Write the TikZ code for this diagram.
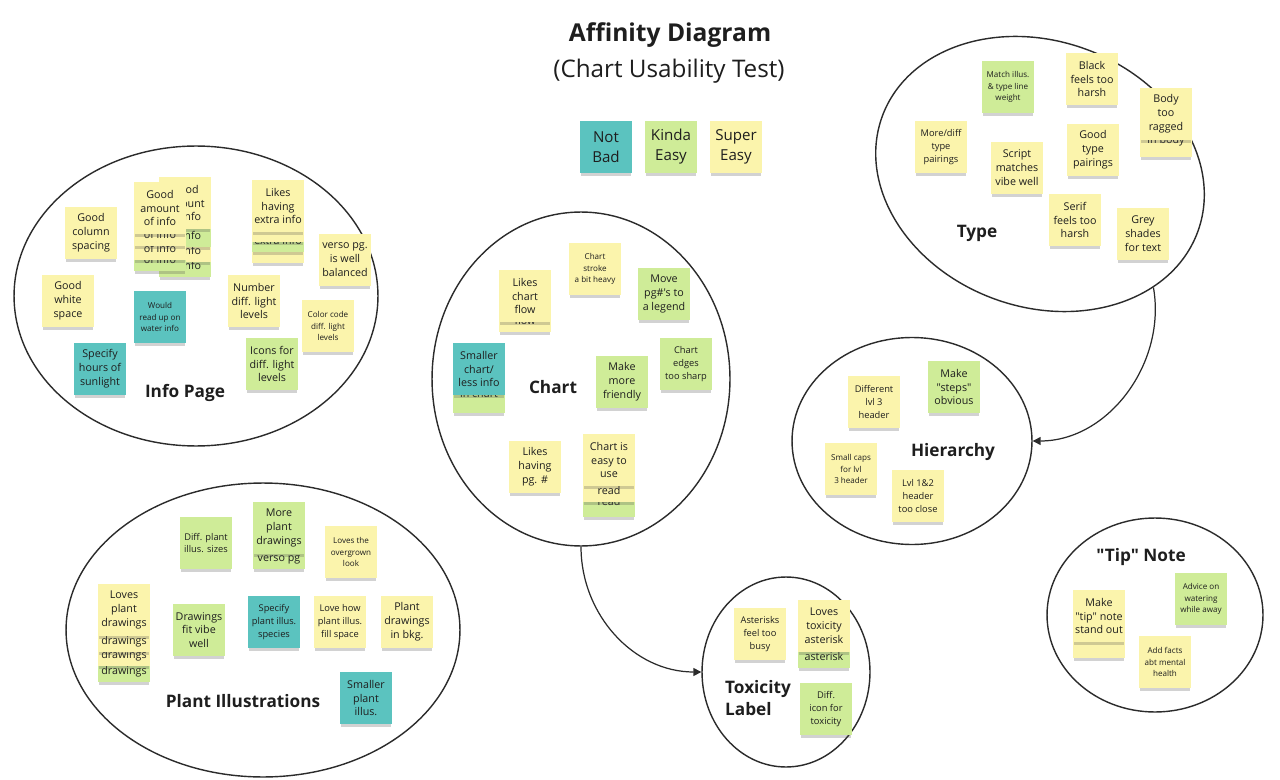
\documentclass[tikz,border=0pt]{standalone}
\usepackage{fontspec}
\setmainfont{Open Sans}[Ligatures=TeXOff]
\usetikzlibrary{arrows.meta, shapes.geometric, shadows}
\definecolor{notbadfill}{HTML}{5BC3BF}
\definecolor{kindafill}{HTML}{CFEC98}
\definecolor{superfill}{HTML}{FBF4AC}
\definecolor{ink}{HTML}{1E1E1E}
\definecolor{ring}{HTML}{2B2B2B}
\newcommand{\bignote}{\fontsize{6.1}{7.9}\selectfont}
\newcommand{\midnote}{\fontsize{5.3}{7.3}\selectfont}
\newcommand{\smallnote}{\fontsize{4.6}{6.6}\selectfont}
\tikzset{
    sticky/.style={rectangle, minimum width=1.04cm, minimum height=1.04cm,
        inner sep=1pt, align=center, font=\bignote, text=ink,
        drop shadow={opacity=0.25, fill=black!70, shadow xshift=0pt,
                     shadow yshift=-0.08cm, shadow scale=0.96}},
    notbad/.style={sticky, fill=notbadfill},
    kindaeasy/.style={sticky, fill=kindafill},
    supereasy/.style={sticky, fill=superfill},
    midtxt/.style={font=\midnote},
    smalltxt/.style={font=\smallnote},
    % last line of a note that lies under another one
    peek/.style={label={[anchor=base, font=\bignote, text=ink,
        inner sep=0pt, yshift=4.5pt]south:#1}},
    legendtxt/.style={font=\fontsize{8.6}{11.3}\selectfont},
    cluster/.style={ellipse, draw=ring, line width=0.8pt, inner sep=0pt},
    clusterlbl/.style={font=\bfseries\fontsize{9.8}{12.4}\selectfont,
        text=ink, align=left},
    arr/.style={-{Triangle[length=4.5pt, width=4.5pt]}, line width=0.7pt,
        draw=ring},
}

\begin{document}
\begin{tikzpicture}[x=0.02cm, y=-0.02cm]
\path[fill=white, use as bounding box] (0,0) rectangle (1280,780);

% ================================================================
%  TITLE AND LEGEND
% ================================================================

\node[font=\bfseries\fontsize{14}{17}\selectfont, text=ink] (title)
    at (670, 35) {Affinity Diagram};
\node[font=\fontsize{13.8}{17}\selectfont, text=ink] (subtitle)
    at (669, 71) {(Chart Usability Test)};

\node[notbad, legendtxt]    (legbad)   at (606, 147) {Not\\Bad};
\node[kindaeasy, legendtxt] (legkinda) at (671, 147) {Kinda\\Easy};
\node[supereasy, legendtxt] (legsuper) at (736, 147) {Super\\Easy};

% ================================================================
%  CLUSTERS
% ================================================================

\node[cluster, minimum width=7.28cm, minimum height=6.0cm]
    (infogrp) at (196, 296) {};
\node[cluster, minimum width=5.96cm, minimum height=6.68cm]
    (chartgrp) at (581, 379) {};
\node[cluster, minimum width=6.72cm, minimum height=5.32cm, rotate=-20]
    (typegrp) at (1040, 174) {};
\node[cluster, minimum width=4.8cm, minimum height=4.14cm]
    (hiergrp) at (912, 441) {};
\node[cluster, minimum width=4.32cm, minimum height=3.88cm]
    (tipgrp) at (1155, 615) {};
\node[cluster, minimum width=7.88cm, minimum height=5.88cm]
    (plantgrp) at (263, 630) {};
\node[cluster, minimum width=3.36cm, minimum height=3.8cm]
    (toxgrp) at (786, 672) {};

\draw[arr] (chartgrp.south) to[out=-90, in=180] (toxgrp.west);
\draw[arr] (typegrp.-25) to[out=-80, in=0] (hiergrp.east);

% ================================================================
%  INFO PAGE
% ================================================================

\node[clusterlbl] (infolbl) at (185, 393) {Info Page};

\node[supereasy] (colspace) at (91, 233) {Good\\column\\spacing};
\node[supereasy] (white)    at (68, 301) {Good\\white\\space};
\node[notbad]    (sunlight) at (100, 369) {Specify\\hours of\\sunlight};
\node[notbad, smalltxt] (water) at (160, 317) {Would\\read up on\\water info};

% amount of info, back stack
\node[kindaeasy, peek={of info}] (amtb4) at (185, 251) {};
\node[supereasy, peek={of info}] (amtb3) at (185, 236) {};
\node[kindaeasy, peek={of info}] (amtb2) at (185, 221) {};
\node[supereasy] (amtb1) at (185, 203) {Good\\amount\\of info};
% amount of info, front stack
\node[kindaeasy, peek={of info}] (amtf4) at (160, 245) {};
\node[supereasy, peek={of info}] (amtf3) at (160, 234) {};
\node[supereasy, peek={of info}] (amtf2) at (160, 220) {};
\node[supereasy] (amtf1) at (160, 208) {Good\\amount\\of info};

\node[supereasy] (extra3) at (278, 237) {};
\node[kindaeasy, peek={extra info}] (extra2) at (278, 226) {};
\node[supereasy] (extra1) at (278, 216) {};
\node[supereasy] (extra)  at (278, 206) {Likes\\having\\extra info};

\node[supereasy] (verso)   at (345, 260) {verso pg.\\is well\\balanced};
\node[supereasy] (number)  at (254, 301) {Number\\diff. light\\levels};
\node[supereasy, smalltxt] (colcode) at (328, 326)
    {Color code\\diff. light\\levels};
\node[kindaeasy] (icons)   at (272, 364) {Icons for\\diff. light\\levels};

% ================================================================
%  CHART
% ================================================================

\node[clusterlbl] (chartlbl) at (553, 387) {Chart};

\node[supereasy, smalltxt] (stroke) at (595, 269)
    {Chart\\stroke\\a bit heavy};
\node[supereasy, peek=flow] (flow1) at (525, 306) {};
\node[supereasy] (flow)  at (525, 296) {Likes\\chart\\flow};
\node[kindaeasy] (legend)   at (664, 294) {Move\\pg\#'s to\\a legend};
\node[kindaeasy, midtxt] (edges) at (686, 364) {Chart\\edges\\too sharp};
\node[kindaeasy] (friendly) at (622, 382) {Make\\more\\friendly};
\node[kindaeasy, label={[anchor=base, font=\bignote, text=ink,
      inner sep=0pt, yshift=9pt]south:in chart}] (less1) at (479, 387) {};
\node[notbad]    (less)  at (479, 369) {Smaller\\chart/\\less info};
\node[supereasy] (pgnum) at (535, 467) {Likes\\having\\pg. \#};
\node[kindaeasy, label={[anchor=base, font=\bignote, text=ink,
      inner sep=0pt, yshift=6.5pt]south:read}] (easy2) at (609, 491) {};
\node[supereasy, peek=read] (easy1) at (609, 476) {};
\node[supereasy] (easy)  at (609, 460) {Chart is\\easy to\\use};

% ================================================================
%  TYPE
% ================================================================

\node[clusterlbl] (typelbl) at (977, 233) {Type};

\node[kindaeasy, smalltxt] (lineweight) at (1008, 87)
    {Match illus.\\\& type line\\weight};
\node[supereasy] (black)   at (1092, 79) {Black\\feels too\\harsh};
\node[supereasy, label={[anchor=base, font=\bignote, text=ink,
      inner sep=0pt, yshift=8pt]south:in body}] (ragged1) at (1166, 131) {};
\node[supereasy] (ragged)  at (1166, 114) {Body\\too\\ragged};
\node[supereasy, midtxt] (morediff) at (941, 147) {More/diff\\type\\pairings};
\node[supereasy] (script)  at (1017, 168) {Script\\matches\\vibe well};
\node[supereasy] (pairs)   at (1093, 150) {Good\\type\\pairings};
\node[supereasy] (serif)   at (1075, 220) {Serif\\feels too\\harsh};
\node[supereasy] (grey)    at (1143, 234) {Grey\\shades\\for text};

% ================================================================
%  HIERARCHY
% ================================================================

\node[clusterlbl] (hierlbl) at (953, 452) {Hierarchy};

\node[supereasy, midtxt] (lvlthree) at (874, 402)
    {Different\\lvl 3\\header};
\node[kindaeasy] (steps) at (954, 387) {Make\\"steps"\\obvious};
\node[supereasy, smalltxt] (smallcaps) at (851, 469)
    {Small caps\\for lvl\\3 header};
\node[supereasy, midtxt] (tooclose) at (918, 496)
    {Lvl 1\&2\\header\\too close};

% ================================================================
%  "TIP" NOTE
% ================================================================

\node[clusterlbl] (tiplbl) at (1141, 557) {"Tip" Note};

\node[kindaeasy, smalltxt] (advice) at (1201, 599)
    {Advice on\\watering\\while away};
\node[supereasy] (standout1) at (1099, 632) {};
\node[supereasy] (standout)  at (1099, 616) {Make\\"tip" note\\stand out};
\node[supereasy, smalltxt] (mental) at (1165, 662)
    {Add facts\\abt mental\\health};

% ================================================================
%  PLANT ILLUSTRATIONS
% ================================================================

\node[clusterlbl] (plantlbl) at (243, 701) {Plant Illustrations};

\node[kindaeasy, midtxt] (sizes) at (206, 543) {Diff. plant\\illus. sizes};
\node[kindaeasy, peek={verso pg}] (verso2) at (279, 543) {};
\node[kindaeasy] (verso1) at (279, 528) {More\\plant\\drawings};
\node[supereasy, smalltxt] (overgrown) at (351, 552)
    {Loves the\\overgrown\\look};
\node[kindaeasy, peek=drawings] (loves4) at (124, 656) {};
\node[supereasy, peek=drawings] (loves3) at (124, 640) {};
\node[supereasy, peek=drawings] (loves2) at (124, 626) {};
\node[supereasy] (loves)  at (124, 610) {Loves\\plant\\drawings};
\node[kindaeasy] (fitvibe) at (199, 630) {Drawings\\fit vibe\\well};
\node[notbad, midtxt] (species) at (274, 622)
    {Specify\\plant illus.\\species};
\node[supereasy, midtxt] (fill) at (340, 622)
    {Love how\\plant illus.\\fill space};
\node[supereasy] (bkg) at (407, 622) {Plant\\drawings\\in bkg.};
\node[notbad] (smallplant) at (366, 698) {Smaller\\plant\\illus.};

% ================================================================
%  TOXICITY LABEL
% ================================================================

\node[clusterlbl] (toxlbl) at (758, 698) {Toxicity\\Label};

\node[supereasy, midtxt] (busy) at (760, 634) {Asterisks\\feel too\\busy};
\node[kindaeasy, peek=asterisk] (asterisk1) at (824, 642) {};
\node[supereasy] (asterisk)  at (824, 626) {Loves\\toxicity\\asterisk};
\node[kindaeasy, midtxt] (icon) at (826, 709) {Diff.\\icon for\\toxicity};

\end{tikzpicture}
\end{document}
